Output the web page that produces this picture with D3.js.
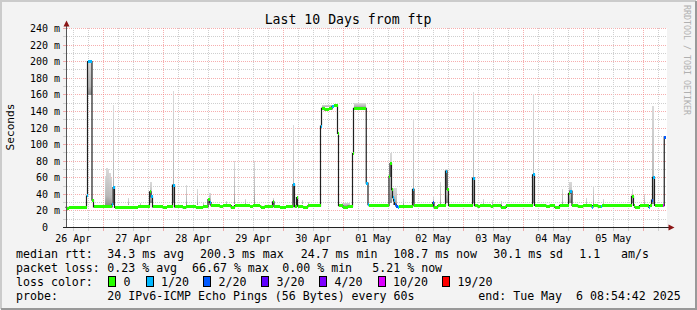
<!DOCTYPE html>
<html>
<head>
<meta charset="utf-8">
<script src="https://cdn.jsdelivr.net/npm/d3@7/dist/d3.min.js"></script>
<style>
	html, body { margin: 0; padding: 0; background: #f3f3f3; }
	svg { display: block; }
	text { font-family: "DejaVu Sans Mono", monospace; fill: #000; white-space: pre; }
</style>
</head>
<body>
<svg id="chart" width="697" height="310"></svg>
<script>
var title = "Last 10 Days from ftp";
var yLabel = "Seconds";
var watermark = "RRDTOOL / TOBI OETIKER";
var startTime = Date.UTC(2025, 3, 26, 8, 54, 42);
var spanHours = 240;
var yTicks = [0, 20, 40, 60, 80, 100, 120, 140, 160, 180, 200, 220, 240];

// median rtt, as steps: [hours since start, ms, lost pings of 20]
var median = [
	[0, 24.2, 0], [0.6, 23.4, 0], [1.4, 24.4, 0],
	[8.4, 38, 1], [8.8, 200, 1], [10.6, 33, 0], [11.2, 24.8, 0],
	[18.6, 28, 1], [19.0, 48, 1], [19.6, 24.2, 0], [20.0, 23.8, 0],
	[28.8, 25.2, 0], [33.6, 43, 0], [34.2, 37, 1], [34.8, 24.8, 0],
	[38.8, 23.8, 0], [40.4, 24.8, 0], [42.8, 51, 1], [43.6, 24.8, 0],
	[46.9, 24.0, 0], [48.3, 24.8, 0], [52.3, 24.0, 0], [54.9, 24.8, 0],
	[57.0, 33.6, 0], [57.6, 30, 1], [58.2, 26.4, 0], [61.6, 25.0, 0], [62.9, 26.4, 0],
	[66.3, 24.0, 0], [67.6, 26.4, 0], [73.6, 25.6, 0], [74.9, 26.4, 0],
	[77.6, 25.6, 0], [78.3, 24.4, 0], [79.6, 25.6, 0],
	[82.8, 31, 0], [83.4, 25.2, 0], [85.6, 24.4, 0], [88.3, 25.2, 0],
	[91.0, 51.6, 1], [91.6, 25.2, 0], [92.4, 36, 0], [92.8, 25.6, 0],
	[94.9, 24.4, 0], [96.9, 26.0, 0],
	[102.0, 122.4, 1], [102.4, 143.6, 0], [103.6, 141.8, 0], [105.2, 143.0, 0],
	[106.6, 146.0, 1], [107.4, 146.8, 0], [108.8, 113.6, 0], [109.2, 26.4, 0],
	[110.9, 24.4, 0], [112.9, 25.6, 0],
	[114.8, 89, 0], [115.2, 143.6, 0], [120.3, 53.6, 1], [121.0, 27.6, 1], [121.4, 26.4, 0],
	[129.4, 61.6, 0], [129.8, 77, 0], [130.4, 45.6, 0], [130.8, 36, 1], [131.2, 32, 1],
	[131.6, 28, 2], [132.2, 25.6, 2], [132.8, 24.4, 1], [133.4, 25.6, 0],
	[138.8, 46, 1], [139.4, 26.4, 0],
	[146.9, 30, 2], [147.4, 24.4, 0], [148.9, 26.4, 0],
	[152.0, 68, 1], [152.6, 46, 0], [153.2, 26.8, 0],
	[162.8, 59.6, 1], [163.6, 26.4, 0],
	[164.9, 24.8, 0], [165.6, 26.4, 0], [170.3, 24.8, 0], [170.9, 26.4, 0],
	[174.3, 24.2, 0], [176.3, 26.4, 0],
	[186.8, 63.6, 1], [187.6, 26.8, 0],
	[192.3, 25.6, 0], [193.6, 26.8, 0], [195.6, 24.4, 0], [197.6, 26.8, 0],
	[201.2, 41, 0], [201.8, 44, 1], [202.6, 26.8, 0],
	[205.0, 25.2, 0], [207.0, 26.4, 0], [210.6, 24.4, 1], [211.0, 26.0, 0],
	[212.9, 25.2, 0], [214.0, 24.8, 1], [214.4, 26.4, 0],
	[226.4, 37.6, 0], [227.2, 26.8, 0], [227.6, 24.4, 0], [229.6, 26.4, 0],
	[233.2, 24.4, 1], [233.6, 26.4, 0],
	[234.4, 33, 2], [234.8, 60.4, 1], [235.6, 26.8, 0],
	[239.1, 26.4, 10], [239.5, 108.7, 2]
];

// smoke (spread of the pings): [from hour, to hour, low ms, high ms]
var smoke = [
	[8.8, 10.6, 160, 201],
	[15.6, 16.2, 27, 62], [16.2, 16.8, 27, 72], [16.8, 17.4, 27, 70], [17.4, 18.0, 27, 66], [18.0, 18.6, 27, 60],
	[19.0, 19.5, 30, 148],
	[24.9, 25.3, 27, 36], [29.8, 30.2, 27, 30],
	[33.6, 34.6, 30, 55],
	[42.9, 43.5, 30, 165],
	[48.0, 48.4, 27, 51], [52.5, 52.9, 27, 46], [54.8, 55.2, 27, 30],
	[57.2, 58.0, 27, 42],
	[64.3, 64.7, 28, 32], [67.2, 67.6, 28, 80], [71.6, 72.0, 28, 34], [75.2, 75.6, 28, 80],
	[82.8, 83.3, 28, 36],
	[91.0, 91.5, 30, 124], [92.4, 92.8, 28, 37], [94.6, 95.0, 28, 33], [97.0, 97.4, 28, 31],
	[102.4, 108.6, 145, 148],
	[110.4, 113.6, 26, 30],
	[115.2, 120.2, 145, 150],
	[129.6, 130.6, 30, 90], [131.0, 132.6, 27, 48], [134.8, 135.2, 27, 36],
	[138.8, 139.4, 30, 131],
	[146.8, 147.4, 27, 38], [149.6, 150.0, 28, 55],
	[152.0, 153.0, 30, 70],
	[162.9, 163.5, 30, 164],
	[166.8, 167.2, 27, 34], [170.4, 170.8, 27, 33], [174.0, 174.4, 27, 32],
	[186.9, 187.5, 30, 161],
	[198.6, 199.0, 27, 46],
	[201.2, 202.6, 30, 55],
	[208.2, 208.6, 27, 36], [210.8, 211.2, 27, 50], [214.8, 215.2, 27, 34],
	[226.4, 227.0, 30, 46],
	[231.2, 231.6, 27, 40],
	[234.6, 235.4, 28, 147]
];

var lossLevels = [0, 1, 2, 3, 4, 10, 19];
var lossLabels = ["0", "1/20", "2/20", "3/20", "4/20", "10/20", "19/20"];
var lossColors = ["#26ff00", "#00b8ff", "#0059ff", "#5e00ff", "#7e00ff", "#dd00ff", "#ff0000"];

var rttStats = ["34.3 ms avg", "200.3 ms max", "24.7 ms min", "108.7 ms now", "30.1 ms sd", "1.1", "am/s"];
var lossStats = ["0.23 % avg", "66.67 % max", "0.00 % min", "5.21 % now"];
var probeText = "20 IPv6-ICMP Echo Pings (56 Bytes) every 60s";
var endText = "end: Tue May  6 08:54:42 2025";

var W = 697, H = 310;
var plot = { left: 67, right: 667, top: 28, bottom: 228 };

var svg = d3.select("#chart");

var start = new Date(startTime),
	end = new Date(startTime + spanHours * 36e5);

var x = d3.scaleUtc().domain([start, end]).range([65.5, 665.5]);
var y = d3.scaleLinear().domain([0, 240]).range([227.5, 28.5]);

function hx(h) {
	return x(new Date(startTime + h * 36e5));
}

function crisp(v) {
	return Math.floor(v) + 0.5;
}

function lossColor(n) {
	for (var i = 0; i < lossLevels.length; i++) {
		if (n <= lossLevels[i]) {
			return lossColors[i];
		}
	}
	return lossColors[lossColors.length - 1];
}

// frame
svg.append("rect").attr("width", W).attr("height", H).attr("fill", "#f3f3f3");
svg.append("path")
	.attr("d", "M1," + (H - 1) + "V1H" + (W - 1))
	.attr("fill", "none").attr("stroke", "#cbcbcb").attr("stroke-width", 2);
svg.append("path")
	.attr("d", "M1," + (H - 1) + "H" + (W - 1) + "V1")
	.attr("fill", "none").attr("stroke", "#999").attr("stroke-width", 2);

svg.append("rect")
	.attr("x", plot.left).attr("y", plot.top)
	.attr("width", plot.right - plot.left).attr("height", plot.bottom - plot.top)
	.attr("fill", "#fff");

var defs = svg.append("defs");
var grad = defs.append("linearGradient")
	.attr("id", "smokeFill")
	.attr("x1", 0).attr("y1", 1).attr("x2", 0).attr("y2", 0);
grad.append("stop").attr("offset", "0%").attr("stop-color", "#8e8e8e");
grad.append("stop").attr("offset", "25%").attr("stop-color", "#b8b8b8");
grad.append("stop").attr("offset", "100%").attr("stop-color", "#dadada");

// grid
var grid = svg.append("g").attr("shape-rendering", "crispEdges");
var minorColor = "#cfcfcf", majorColor = "rgba(240,120,120,0.6)";

d3.range(10, 241, 10).forEach(function(v) {
	var yy = crisp(y(v)), major = v % 20 === 0;
	grid.append("line")
		.attr("x1", plot.left).attr("x2", plot.right)
		.attr("y1", yy).attr("y2", yy)
		.attr("stroke", major ? majorColor : minorColor)
		.attr("stroke-dasharray", "1,1");
	grid.append("line")
		.attr("x1", 63).attr("x2", 66)
		.attr("y1", yy).attr("y2", yy)
		.attr("stroke", major ? majorColor : minorColor);
});

d3.utcHour.every(6).range(start, end).forEach(function(t) {
	var xx = crisp(x(t)), major = t.getUTCHours() === 0;
	if (xx < plot.left) {
		return;
	}
	grid.append("line")
		.attr("x1", xx).attr("x2", xx)
		.attr("y1", plot.top).attr("y2", plot.bottom)
		.attr("stroke", major ? majorColor : minorColor)
		.attr("stroke-dasharray", "1,1");
	grid.append("line")
		.attr("x1", xx).attr("x2", xx)
		.attr("y1", 228).attr("y2", 231)
		.attr("stroke", major ? majorColor : minorColor);
});

// smoke
svg.append("g").attr("shape-rendering", "crispEdges")
	.selectAll("rect").data(smoke).join("rect")
	.attr("x", function(d) { return hx(d[0]); })
	.attr("width", function(d) { return Math.max(1, hx(d[1]) - hx(d[0])); })
	.attr("y", function(d) { return y(d[3]); })
	.attr("height", function(d) { return y(d[2]) - y(d[3]); })
	.attr("fill", "url(#smokeFill)");

// median: thin dark line, then loss coloured bands
var steps = median.concat([[spanHours, median[median.length - 1][1], 0]]);
svg.append("path")
	.datum(steps)
	.attr("d", d3.line()
		.x(function(d) { return hx(d[0]); })
		.y(function(d) { return y(d[1]); })
		.curve(d3.curveStepAfter))
	.attr("fill", "none")
	.attr("stroke", "#202020")
	.attr("stroke-width", 1.2);

svg.append("g").attr("shape-rendering", "crispEdges")
	.selectAll("rect").data(median).join("rect")
	.attr("x", function(d) { return hx(d[0]); })
	.attr("width", function(d, i) { return Math.max(1, hx(steps[i + 1][0]) - hx(d[0])); })
	.attr("y", function(d) { return y(d[1]) - 1.5; })
	.attr("height", 3)
	.attr("fill", function(d) { return lossColor(d[2]); });

// axes
var axis = svg.append("g").attr("shape-rendering", "crispEdges");
axis.append("line")
	.attr("x1", 66.5).attr("x2", 66.5).attr("y1", 228).attr("y2", 25)
	.attr("stroke", "#555");
axis.append("line")
	.attr("x1", 63).attr("x2", 669).attr("y1", 227.5).attr("y2", 227.5)
	.attr("stroke", "#222");
svg.append("path").attr("d", "M66.5,20.5L63.5,26.5L69.5,26.5Z").attr("fill", "#8b1515");
svg.append("path").attr("d", "M674.5,227.5L668.5,224.5L668.5,230.5Z").attr("fill", "#8b1515");

svg.append("g").selectAll("text").data(yTicks).join("text")
	.attr("x", function(d) { return d === 0 ? 60 - 12 : 60; })
	.attr("y", function(d) { return crisp(y(d)) + 3.5; })
	.attr("text-anchor", "end")
	.attr("font-size", 10)
	.text(function(d) { return d === 0 ? "0" : d + " m"; });

var noons = d3.utcDay.range(d3.utcDay.floor(start), end).map(function(t) {
	return d3.utcHour.offset(t, 12);
}).filter(function(t) { return t > start && t < end; });

svg.append("g").selectAll("text").data(noons).join("text")
	.attr("x", function(d) { return x(d); })
	.attr("y", 242)
	.attr("text-anchor", "middle")
	.attr("font-size", 10)
	.text(d3.utcFormat("%d %b"));

// titles
svg.append("text")
	.attr("x", 348).attr("y", 24)
	.attr("text-anchor", "middle")
	.attr("font-size", 13.2)
	.text(title);

svg.append("text")
	.attr("transform", "translate(14,127) rotate(-90)")
	.attr("text-anchor", "middle")
	.attr("font-size", 11.2)
	.text(yLabel);

svg.append("text")
	.attr("transform", "translate(684,60) rotate(90)")
	.attr("text-anchor", "middle")
	.attr("font-size", 8.3)
	.style("fill", "#b0b0b0")
	.text(watermark);

// legend
var legend = svg.append("g").attr("font-size", 11.6);
function legendText(tx, ty, s) {
	legend.append("text").attr("x", tx).attr("y", ty).text(s);
}

var rttX = [107.3, 200, 300.7, 393.3, 493.3, 579.3, 621];
legendText(16, 258.3, "median rtt:");
rttStats.forEach(function(s, i) { legendText(rttX[i], 258.3, s); });

var lossX = [107.3, 192, 282.3, 372.3];
legendText(16, 272.3, "packet loss:");
lossStats.forEach(function(s, i) { legendText(lossX[i], 272.3, s); });

var boxX = [108.5, 146, 203.5, 261.5, 319.5, 378, 442.5];
legendText(16, 286.3, "loss color:");
lossLabels.forEach(function(s, i) {
	legend.append("rect")
		.attr("x", boxX[i]).attr("y", 276.5)
		.attr("width", 7).attr("height", 10)
		.attr("fill", lossColors[i])
		.attr("stroke", "#000")
		.attr("shape-rendering", "crispEdges");
	legendText(boxX[i] + 15, 286.3, s);
});

legendText(16, 300, "probe:");
legendText(107.3, 300, probeText);
legendText(478.3, 300, endText);
</script>
</body>
</html>
